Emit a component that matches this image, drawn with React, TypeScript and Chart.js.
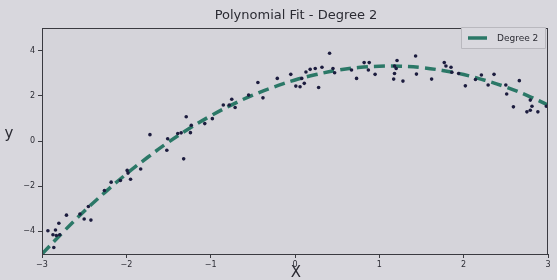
import React, { useEffect, useRef } from "react";
import { Chart, registerables } from "chart.js";

Chart.register(...registerables);

const scatterX = [
  -2.93, -2.84, -2.8, -2.87, -2.83, -2.79, -2.71, -2.86, -2.55, -2.5, -2.42, -2.45,
  -2.26, -2.18, -2.07, -1.99, -1.98, -1.95, -1.83, -1.72, -1.52, -1.51, -1.32, -1.35,
  -1.29, -1.24, -1.23, -1.07, -0.98, -0.85, -0.75, -0.71, -0.55, -0.44, -0.38, -1.39,
  -0.78, -0.21, -0.05, 0.01, 0.06, 0.11, 0.08, 0.13, 0.18, 0.24, 0.32, 0.28, 0.41,
  0.45, 0.47, 0.73, 0.67, 0.82, 0.88, 0.87, 0.95, 1.21, 1.18, 1.2, 1.18, 1.17, 1.28,
  1.43, 1.44, 1.62, 1.77, 1.79, 1.85, 1.86, 1.94, 2.02, 2.14, 2.21, 2.36, 2.29, 2.5,
  2.51, 2.66, 2.59, 2.79, 2.81, 2.79, 2.75, 2.88, 2.98,
];
const scatterY = [
  -3.97, -3.94, -3.64, -4.15, -4.18, -4.15, -3.28, -4.71, -3.23, -3.45, -3.5, -2.9,
  -2.19, -1.82, -1.75, -1.3, -1.42, -1.69, -1.24, 0.28, -0.41, 0.1, -0.79, 0.36,
  1.07, 0.37, 0.7, 0.77, 0.99, 1.59, 1.85, 1.48, 2.03, 2.59, 1.91, 0.33,
  1.59, 2.77, 2.95, 2.43, 2.4, 2.55, 2.77, 3.05, 3.17, 3.21, 3.26, 2.37, 3.88,
  3.21, 3.02, 2.77, 3.14, 3.47, 3.47, 3.14, 2.95, 3.56, 3.32, 3.21, 2.99, 2.74, 2.65,
  3.76, 2.96, 2.74, 3.47, 3.32, 3.26, 3.04, 2.99, 2.44, 2.72, 2.92, 2.95, 2.48, 2.48,
  2.08, 2.67, 1.51, 1.81, 1.54, 1.36, 1.29, 1.29, 1.54,
];

const fitX = [
  -3, -2.75, -2.5, -2.25, -2, -1.75, -1.5, -1.25, -1, -0.75, -0.5, -0.25, 0,
  0.25, 0.5, 0.75, 1, 1.25, 1.5, 1.75, 2, 2.25, 2.5, 2.75, 3,
];
const fitY = [
  -5.0, -4.03, -3.11, -2.26, -1.46, -0.73, -0.05, 0.56, 1.11, 1.6, 2.03, 2.39, 2.7,
  2.94, 3.13, 3.25, 3.31, 3.31, 3.25, 3.12, 2.94, 2.69, 2.39, 2.02, 1.59,
];

const xTicks = [-3, -2, -1, 0, 1, 2, 3];
const yTicks = [-4, -2, 0, 2, 4];

const titleText = "Polynomial Fit - Degree 2";
const legendLabel = "Degree 2";
const xLabel = "X";
const yLabel = "y";

const LINE_COLOR = "#2b7867";
const POINT_COLOR = "#1c1c3e";
const TEXT_COLOR = "#2b2b33";
const FONT = "'DejaVu Sans', sans-serif";

const fmt = (v: number) => (v < 0 ? "\u2212" + Math.abs(v) : String(v));

export default function App() {
  const ref = useRef<HTMLCanvasElement | null>(null);

  useEffect(() => {
    if (!ref.current) return;
    const decor = {
      id: "decor",
      beforeDraw(chart: any) {
        const { ctx, width, height, chartArea: a } = chart;
        ctx.save();
        ctx.fillStyle = "#d8d7dd";
        ctx.fillRect(0, 0, width, height);
        ctx.fillStyle = "#d5d4da";
        ctx.fillRect(a.left, a.top, a.right - a.left, a.bottom - a.top);
        ctx.restore();
      },
      afterDraw(chart: any) {
        const { ctx, chartArea: a } = chart;
        ctx.save();
        ctx.strokeStyle = "#3a3a40";
        ctx.lineWidth = 1;
        ctx.strokeRect(a.left + 0.5, a.top + 0.5, a.right - a.left - 1, a.bottom - a.top);
        ctx.fillStyle = TEXT_COLOR;
        ctx.textAlign = "center";
        ctx.textBaseline = "middle";
        ctx.font = `13px ${FONT}`;
        ctx.fillText(titleText, 296, 16);
        ctx.font = `15px ${FONT}`;
        ctx.fillText(xLabel, 296, 273);
        ctx.fillText(yLabel, 9, 134);
        // legend
        const lx = 461, ly = 27, lw = 84, lh = 21;
        ctx.fillStyle = "#d9d8de";
        ctx.strokeStyle = "#b9b8be";
        ctx.beginPath();
        ctx.rect(lx + 0.5, ly + 0.5, lw, lh);
        ctx.fill();
        ctx.stroke();
        ctx.strokeStyle = LINE_COLOR;
        ctx.lineWidth = 3.5;
        ctx.beginPath();
        ctx.moveTo(468, ly + lh / 2 + 0.5);
        ctx.lineTo(487, ly + lh / 2 + 0.5);
        ctx.stroke();
        ctx.fillStyle = TEXT_COLOR;
        ctx.textAlign = "left";
        ctx.font = `9px ${FONT}`;
        ctx.fillText(legendLabel, 497, ly + lh / 2 + 1);
        ctx.restore();
      },
    };

    const chart = new Chart(ref.current, {
      type: "scatter",
      data: {
        datasets: [
          {
            label: "data",
            data: scatterX.map((x, i) => ({ x, y: scatterY[i] })),
            backgroundColor: POINT_COLOR,
            borderColor: POINT_COLOR,
            pointRadius: 1.8,
            borderWidth: 0,
          },
          {
            type: "line",
            label: legendLabel,
            data: fitX.map((x, i) => ({ x, y: fitY[i] })),
            borderColor: LINE_COLOR,
            borderWidth: 3.5,
            borderDash: [11, 6],
            pointRadius: 0,
            tension: 0.4,
            fill: false,
          } as any,
        ],
      },
      options: {
        animation: false,
        responsive: false,
        layout: { padding: { top: 28, right: 9, left: 0, bottom: 0 } },
        plugins: {
          legend: { display: false },
          tooltip: { enabled: false },
          title: { display: false },
        },
        scales: {
          x: {
            type: "linear",
            min: -3,
            max: 3,
            afterBuildTicks: (s: any) => {
              s.ticks = xTicks.map((v) => ({ value: v }));
            },
            afterFit: (s: any) => {
              s.height = 26;
            },
            ticks: {
              callback: (v: any) => fmt(Number(v)),
              color: TEXT_COLOR,
              font: { size: 8, family: FONT },
              padding: 2,
              maxRotation: 0,
            },
            grid: { drawOnChartArea: false, drawTicks: true, tickLength: 4, color: "#3a3a40" },
            border: { display: false },
          },
          y: {
            type: "linear",
            min: -5,
            max: 5,
            afterBuildTicks: (s: any) => {
              s.ticks = yTicks.map((v) => ({ value: v }));
            },
            afterFit: (s: any) => {
              s.width = 42;
            },
            ticks: {
              callback: (v: any) => fmt(Number(v)),
              color: TEXT_COLOR,
              font: { size: 8, family: FONT },
              padding: 3,
            },
            grid: { drawOnChartArea: false, drawTicks: true, tickLength: 4, color: "#3a3a40" },
            border: { display: false },
          },
        },
      },
      plugins: [decor],
    });
    return () => chart.destroy();
  }, []);

  return (
    <div style={{ position: "fixed", left: 0, top: 0, width: 557, height: 280 }}>
      <canvas ref={ref} width={557} height={280} style={{ display: "block" }} />
    </div>
  );
}
